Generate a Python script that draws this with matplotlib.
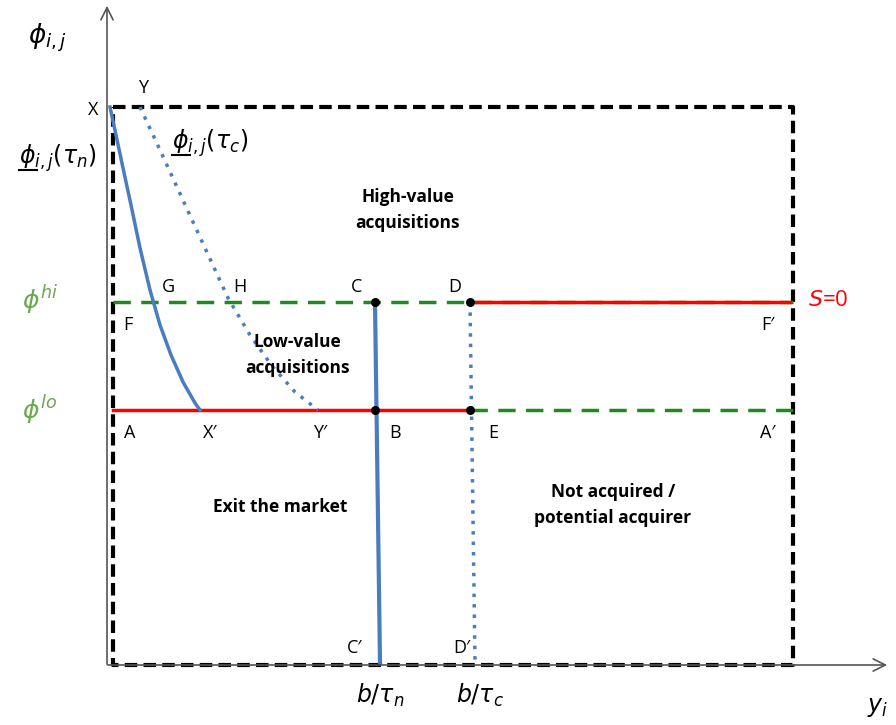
import numpy as np
import matplotlib.pyplot as plt

plt.rcParams['font.family'] = ['Open Sans', 'DejaVu Sans']
plt.rcParams['mathtext.fontset'] = 'dejavusans'

# diagram geometry (pixel-like units of the sketch)
box_x = [113, 793]
box_y = [107, 665]
phi_hi = 302
phi_lo = 410
b_tau_n = [375, 380]
b_tau_c = [470, 475]

# curves X->X' (solid) and Y->Y' (dotted)
curve_n_x = [110, 116, 123, 131, 140, 150, 160, 171, 183, 195, 200]
curve_n_y = [107, 135, 168, 205, 248, 290, 325, 355, 382, 403, 410]
curve_c_x = [140, 160, 182, 205, 228, 250, 272, 295, 318]
curve_c_y = [107, 150, 198, 248, 298, 335, 366, 392, 410]

dots_x = [375, 375, 470, 470]
dots_y = [302, 410, 302, 410]

fig = plt.figure(figsize=(8.96, 7.25), dpi=100)
ax = fig.add_axes([0, 0, 1, 1])
ax.set_xlim(0, 896)
ax.set_ylim(725, 0)
ax.axis('off')

blue = '#4a7cc0'
green = '#1f8a1f'
red = '#ff0000'
lgreen = '#6aa84f'

# axes arrows
ax.annotate('', xy=(107, 3), xytext=(107, 667),
            arrowprops=dict(arrowstyle='->', color='#555555', lw=1.2, mutation_scale=22))
ax.annotate('', xy=(890, 665), xytext=(105, 665),
            arrowprops=dict(arrowstyle='->', color='#555555', lw=1.2, mutation_scale=22))

# dashed box
ax.plot([box_x[0], box_x[1], box_x[1], box_x[0], box_x[0]],
        [box_y[0], box_y[0], box_y[1], box_y[1], box_y[0]],
        color='black', lw=3, ls=(0, (3, 1.5)))

# phi_hi line
ax.plot([113, 793], [phi_hi, phi_hi], color=green, lw=2.5, ls=(0, (5, 3)))
ax.plot([470, 790], [phi_hi, phi_hi], color=red, lw=2.5)
# phi_lo line
ax.plot([470, 793], [phi_lo, phi_lo], color=green, lw=2.5, ls=(0, (5, 3)))
ax.plot([113, 470], [phi_lo, phi_lo], color=red, lw=2.5)

# curves
ax.plot(curve_n_x, curve_n_y, color=blue, lw=2.5)
ax.plot(curve_c_x, curve_c_y, color=blue, lw=2.5, ls=(0, (1, 2)))

# vertical lines
ax.plot(b_tau_n, [phi_hi, 662], color=blue, lw=3)
ax.plot(b_tau_c, [phi_hi, 662], color=blue, lw=2.5, ls=(0, (1, 2)))

ax.scatter(dots_x, dots_y, s=30, color='black', zorder=5)

# point labels
pts = {'X': (93, 110), 'Y': (143, 88), 'G': (168, 287), 'H': (240, 287), 'C': (357, 287),
       'D': (455, 287), 'F': (128, 325), 'F\u2032': (768, 325), 'A': (130, 433),
       'X\u2032': (210, 433), 'Y\u2032': (320, 433), 'B': (395, 433), 'E': (493, 433),
       'A\u2032': (768, 433), 'C\u2032': (355, 648), 'D\u2032': (462, 648)}
for k, (x, y) in pts.items():
    ax.text(x, y, k, fontsize=13, ha='center', va='center')

ax.text(48, 38, r'$\phi_{i,j}$', fontsize=19, ha='center', va='center')
ax.text(58, 158, r'$\phi_{i,j}(\tau_n)$', fontsize=17, ha='center', va='center')
ax.plot([19, 37], [170, 170], color='black', lw=1.5)
ax.text(210, 143, r'$\phi_{i,j}(\tau_c)$', fontsize=17, ha='center', va='center')
ax.plot([172, 190], [155, 155], color='black', lw=1.5)
ax.text(40, 300, r'$\phi^{hi}$', fontsize=18, color=lgreen, ha='center', va='center')
ax.text(40, 410, r'$\phi^{lo}$', fontsize=18, color=lgreen, ha='center', va='center')
ax.text(828, 300, r'$S$=0', fontsize=16, color=red, ha='center', va='center')
ax.text(380, 695, r'$b/\tau_n$', fontsize=17, ha='center', va='center')
ax.text(480, 695, r'$b/\tau_c$', fontsize=17, ha='center', va='center')
ax.text(878, 707, r'$y_i$', fontsize=17, ha='center', va='center')

ax.text(408, 210, 'High-value\nacquisitions', fontsize=12.5, fontweight='bold',
        ha='center', va='center', linespacing=1.6)
ax.text(297, 355, 'Low-value\nacquisitions', fontsize=12.5, fontweight='bold',
        ha='center', va='center', linespacing=1.6)
ax.text(280, 507, 'Exit the market', fontsize=12.5, fontweight='bold',
        ha='center', va='center')
ax.text(613, 505, 'Not acquired /\npotential acquirer', fontsize=12.5, fontweight='bold',
        ha='center', va='center', linespacing=1.6)

fig.savefig('out.png', dpi=100)
